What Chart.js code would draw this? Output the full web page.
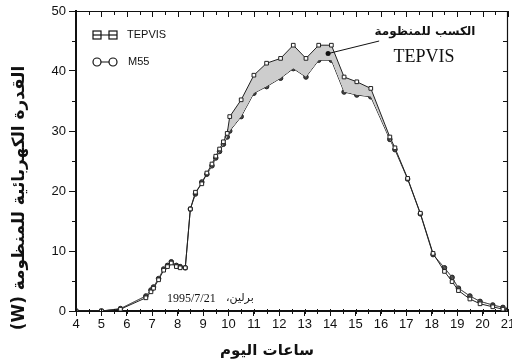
<!DOCTYPE html>
<html>
<head>
<meta charset="utf-8">
<style>
  html, body { margin: 0; padding: 0; background: #fff; }
</style>
<script src="https://cdn.jsdelivr.net/npm/chart.js"></script>
</head>
<body>
<canvas id="myChart" width="512" height="363"></canvas>
<script>
// hours of the day (x) and power in W for each system
const hours  = [4, 5, 5.75, 6.75, 6.95, 7.05, 7.25, 7.45, 7.6, 7.75, 7.95, 8.1, 8.3, 8.5, 8.7, 8.95, 9.15, 9.35, 9.5, 9.65, 9.8, 9.95, 10.05, 10.5, 11.0, 11.5, 12.05, 12.55, 13.05, 13.55, 14.05, 14.55, 15.05, 15.6, 16.35, 16.55, 17.05, 17.55, 18.05, 18.5, 18.8, 19.05, 19.5, 19.9, 20.4, 20.8, 21];
const tepvis = [0, 0, 0.3, 2.2, 3.2, 3.8, 5.2, 6.8, 7.4, 8.0, 7.4, 7.2, 7.2, 17.0, 19.8, 21.2, 23.0, 24.5, 25.8, 27.0, 28.2, 29.6, 32.4, 35.2, 39.3, 41.3, 42.1, 44.3, 42.1, 44.3, 44.3, 39.0, 38.2, 37.1, 29.0, 27.2, 22.1, 16.3, 9.6, 6.6, 4.9, 3.4, 2.0, 1.2, 0.7, 0.3, 0];
const m55    = [0, 0, 0.4, 2.5, 3.5, 4.0, 5.4, 7.0, 7.6, 8.2, 7.6, 7.4, 7.2, 17.0, 19.5, 21.5, 22.8, 24.2, 25.5, 26.6, 27.8, 29.0, 30.0, 32.4, 36.3, 37.4, 38.8, 40.4, 39.0, 41.8, 41.8, 36.5, 36.0, 35.7, 28.6, 26.9, 22.0, 16.2, 9.4, 7.2, 5.6, 3.8, 2.5, 1.6, 1.0, 0.6, 0.2];

const xTicks = [4, 5, 6, 7, 8, 9, 10, 11, 12, 13, 14, 15, 16, 17, 18, 19, 20, 21];
const yTicks = [0, 10, 20, 30, 40, 50];

const xTitle = 'ساعات اليوم';
const yTitle = 'القدرة الكهربائية للمنظومة (W)';
const gainLabel = 'الكسب للمنظومة';
const placeLabel = 'برلين،';
const dateLabel = '1995/7/21';

const ARABIC = '"DejaVu Sans"';

// frame, minor ticks, legend, notes and axis titles
const extras = {
  id: 'extras',
  afterDraw(chart) {
    const ctx = chart.ctx;
    const a = chart.chartArea;
    const xs = chart.scales.x, ys = chart.scales.y;
    ctx.save();
    ctx.strokeStyle = '#111';
    ctx.fillStyle = '#111';

    // top + right border
    ctx.lineWidth = 1.2;
    ctx.beginPath();
    ctx.moveTo(a.left, a.top + 0.5);
    ctx.lineTo(a.right - 0.5, a.top + 0.5);
    ctx.lineTo(a.right - 0.5, a.bottom);
    ctx.stroke();

    // x ticks every half hour (bottom crossing, top inward)
    ctx.lineWidth = 1;
    ctx.beginPath();
    for (let h = 4; h <= 21; h += 0.5) {
      const px = Math.round(xs.getPixelForValue(h)) + 0.5;
      const major = Number.isInteger(h);
      ctx.moveTo(px, a.bottom - 2);
      ctx.lineTo(px, a.bottom + 3);
      ctx.moveTo(px, a.top);
      ctx.lineTo(px, a.top + (major ? 6 : 4));
    }
    // y ticks every 5 W
    for (let v = 0; v <= 50; v += 5) {
      const py = Math.round(ys.getPixelForValue(v)) + 0.5;
      if (v % 10 !== 0) {
        ctx.moveTo(a.left - 4, py);
        ctx.lineTo(a.left, py);
      }
      ctx.moveTo(a.right - 5, py);
      ctx.lineTo(a.right, py);
    }
    ctx.stroke();

    // legend
    ctx.lineWidth = 1.2;
    ctx.beginPath();
    ctx.moveTo(97, 35); ctx.lineTo(113, 35);
    ctx.moveTo(97, 62); ctx.lineTo(113, 62);
    ctx.stroke();
    [97, 113].forEach(cx => {
      ctx.fillStyle = '#fff';
      ctx.fillRect(cx - 4, 31, 8, 8);
      ctx.strokeRect(cx - 4, 31, 8, 8);
      ctx.beginPath();
      ctx.moveTo(cx - 4, 35); ctx.lineTo(cx + 4, 35);
      ctx.stroke();
      ctx.beginPath();
      ctx.arc(cx, 62, 4, 0, Math.PI * 2);
      ctx.fill();
      ctx.stroke();
    });
    ctx.fillStyle = '#111';
    ctx.font = '11px "Liberation Sans"';
    ctx.textAlign = 'left';
    ctx.textBaseline = 'middle';
    ctx.fillText('TEPVIS', 127, 35);
    ctx.fillText('M55', 128, 62);

    // gain annotation
    const sx = xs.getPixelForValue(13.92), sy = ys.getPixelForValue(42.9);
    const ex = xs.getPixelForValue(15.93), ey = ys.getPixelForValue(45);
    ctx.lineWidth = 1;
    ctx.beginPath();
    ctx.moveTo(sx, sy); ctx.lineTo(ex, ey);
    ctx.stroke();
    ctx.beginPath();
    ctx.arc(sx, sy, 2.5, 0, Math.PI * 2);
    ctx.fill();

    ctx.textAlign = 'center';
    ctx.direction = 'rtl';
    ctx.font = 'bold 12px ' + ARABIC;
    ctx.fillText(gainLabel, 425, 32);
    ctx.direction = 'ltr';
    ctx.font = '18px "Liberation Serif"';
    ctx.fillText('TEPVIS', 424, 57);

    // place / date note
    ctx.textAlign = 'left';
    ctx.font = '12px "Liberation Serif"';
    ctx.fillText(dateLabel, 167, 299);
    ctx.direction = 'rtl';
    ctx.font = '11px ' + ARABIC;
    ctx.fillText(placeLabel, 226, 298);

    // axis titles
    ctx.textAlign = 'center';
    ctx.font = 'bold 15px ' + ARABIC;
    ctx.fillText(xTitle, 267, 351);

    ctx.translate(20, 198);
    ctx.rotate(-Math.PI / 2);
    let size = 15;
    ctx.font = 'bold ' + size + 'px ' + ARABIC;
    const w = ctx.measureText(yTitle).width;
    size = Math.min(17, size * 265 / w);
    ctx.font = 'bold ' + size.toFixed(1) + 'px ' + ARABIC;
    ctx.fillText(yTitle, 0, 0);
    ctx.restore();
  }
};

const ctx = document.getElementById('myChart');

new Chart(ctx, {
  type: 'line',
  data: {
    datasets: [{
      label: 'TEPVIS',
      data: hours.map((h, i) => ({ x: h, y: tepvis[i] })),
      borderColor: '#222',
      borderWidth: 1,
      pointStyle: 'rect',
      pointRadius: 2.6,
      pointBackgroundColor: '#fff',
      pointBorderColor: '#222',
      pointBorderWidth: 1,
      tension: 0,
      fill: { target: 1, above: '#cdcdcd', below: 'rgba(0,0,0,0)' }
    }, {
      label: 'M55',
      data: hours.map((h, i) => ({ x: h, y: m55[i] })),
      borderColor: '#222',
      borderWidth: 1,
      pointStyle: 'circle',
      pointRadius: 2.3,
      pointBackgroundColor: '#444',
      pointBorderColor: '#222',
      pointBorderWidth: 1,
      tension: 0,
      fill: false
    }]
  },
  options: {
    responsive: false,
    animation: false,
    devicePixelRatio: 1,
    layout: { autoPadding: false, padding: { top: 11, right: 4, left: 0, bottom: 0 } },
    plugins: {
      legend: { display: false },
      tooltip: { enabled: false }
    },
    scales: {
      x: {
        type: 'linear',
        min: 4,
        max: 21,
        afterBuildTicks: s => { s.ticks = xTicks.map(v => ({ value: v })); },
        afterFit: s => { s.height = 52; s.paddingLeft = 0; s.paddingRight = 0; },
        ticks: {
          color: '#111',
          font: { family: 'Liberation Sans', size: 13 },
          padding: 1,
          maxRotation: 0,
          autoSkip: false
        },
        grid: { drawOnChartArea: false, tickLength: 5, color: '#111' },
        border: { color: '#111', width: 2 }
      },
      y: {
        min: 0,
        max: 50,
        afterBuildTicks: s => { s.ticks = yTicks.map(v => ({ value: v })); },
        afterFit: s => { s.width = 76; s.paddingTop = 0; s.paddingBottom = 0; },
        ticks: {
          color: '#111',
          font: { family: 'Liberation Sans', size: 13 },
          padding: 3
        },
        grid: { drawOnChartArea: false, tickLength: 7, color: '#111' },
        border: { color: '#111', width: 2 }
      }
    }
  },
  plugins: [extras]
});
</script>
</body>
</html>
